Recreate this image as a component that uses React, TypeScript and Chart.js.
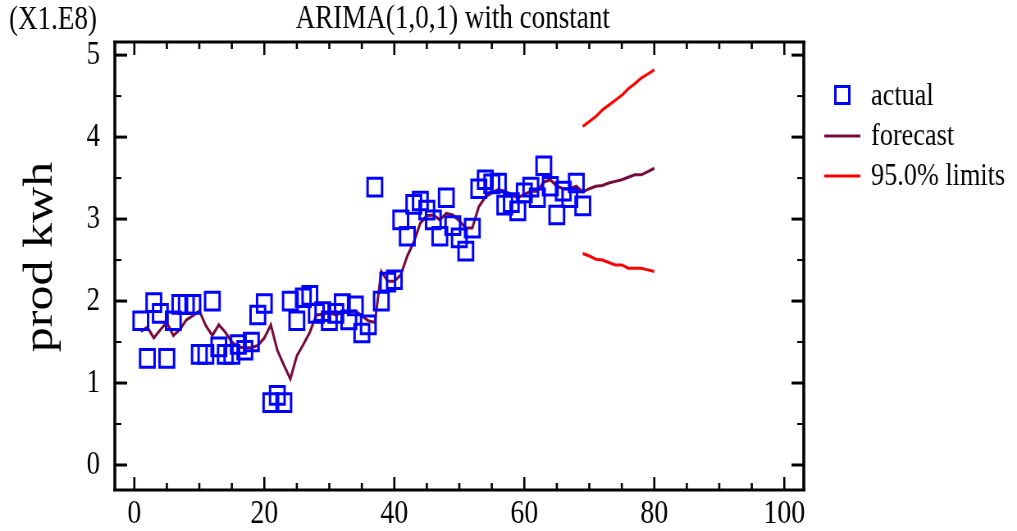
import React, { useEffect, useRef } from "react";
import { Chart, registerables } from "chart.js";

Chart.register(...registerables);

// ---------- data ----------
const actualValues = [
  1.76, 1.30, 1.98, 1.85, 1.30, 1.76, 1.96, 1.96, 1.96, 1.35,
  1.35, 2.00, 1.44, 1.35, 1.35, 1.47, 1.40, 1.50, 1.83, 1.97,
  0.76, 0.85, 0.76, 2.00, 1.76, 2.04, 2.07, 1.85, 1.87, 1.76,
  1.85, 1.97, 1.77, 1.94, 1.61, 1.71, 3.39, 2.00, 2.23, 2.26,
  2.99, 2.79, 3.18, 3.22, 3.11, 2.99, 2.79, 3.26, 2.92, 2.77,
  2.61, 2.89, 3.37, 3.48, 3.43, 3.44, 3.17, 3.20, 3.10, 3.32,
  3.39, 3.26, 3.65, 3.40, 3.05, 3.34, 3.26, 3.44, 3.16,
];
const forecastValues = [
  1.63, 1.68, 1.55, 1.65, 1.74, 1.58, 1.65, 1.77, 1.82, 1.88,
  1.70, 1.58, 1.71, 1.62, 1.50, 1.44, 1.43, 1.43, 1.46, 1.55,
  1.71, 1.40, 1.22, 1.05, 1.33, 1.47, 1.62, 1.83, 1.84, 1.86,
  1.83, 1.86, 1.86, 1.88, 1.82, 1.76, 1.74, 2.36, 2.24, 2.24,
  2.32, 2.55, 2.72, 2.95, 3.04, 3.05, 2.99, 3.07, 3.05, 2.98,
  2.89, 2.89, 3.15, 3.27, 3.32, 3.36, 3.34, 3.30, 3.26, 3.30,
  3.34, 3.34, 3.45, 3.48, 3.40, 3.37, 3.37, 3.40,
  3.33, 3.37, 3.40, 3.41, 3.44, 3.46, 3.48, 3.51, 3.54, 3.54, 3.58, 3.62,
];
const limitsStart = 69;
const upperLimits = [4.13, 4.19, 4.25, 4.33, 4.39, 4.45, 4.51, 4.59, 4.65, 4.72, 4.77, 4.82];
const lowerLimits = [2.58, 2.55, 2.51, 2.50, 2.47, 2.44, 2.44, 2.40, 2.40, 2.40, 2.38, 2.36];

const xTickValues = [0, 20, 40, 60, 80, 100];
const yTickValues = [0, 1, 2, 3, 4, 5];

const titleText = "ARIMA(1,0,1) with constant";
const multiplierText = "(X1.E8)";
const yAxisTitle = "prod kwh";
const legendLabels = ["actual", "forecast", "95.0% limits"];

// ---------- styles ----------
const OUT_W = 1017;
const OUT_H = 531;
const K = 0.82;
const W = Math.round(OUT_W / K);
const H = OUT_H;
const FONT = "'Liberation Serif', 'Times New Roman', serif";
const BLUE = "#0000ff";
const MAROON = "#780a3c";
const RED = "#ff0000";

const toPoints = (vals: number[], start: number) =>
  vals.map((v, i) => ({ x: start + i, y: v }));

const decorPlugin = {
  id: "decor",
  afterDraw(chart: any) {
    const { ctx, chartArea: a, scales } = chart;
    const xs = scales.x;
    const ys = scales.y;
    ctx.save();
    ctx.strokeStyle = "#000";
    const seg = (x1: number, y1: number, x2: number, y2: number) => {
      ctx.beginPath();
      ctx.moveTo(x1, y1);
      ctx.lineTo(x2, y2);
      ctx.stroke();
    };
    // x ticks (inside, top and bottom)
    ctx.lineWidth = 2.6;
    for (let v = 0; v <= 100; v += 5) {
      const px = xs.getPixelForValue(v);
      const len = v % 20 === 0 ? 13 : 7;
      seg(px, a.bottom, px, a.bottom - len);
      seg(px, a.top, px, a.top + len);
    }
    // y ticks (inside, left and right)
    for (let v = 0; v <= 5; v += 0.5) {
      const py = ys.getPixelForValue(v);
      const major = Number.isInteger(v);
      ctx.lineWidth = major ? 3 : 2;
      const len = major ? 15 : 8;
      seg(a.left, py, a.left + len, py);
      seg(a.right, py, a.right - len, py);
    }
    // frame
    ctx.lineWidth = 3;
    seg(a.left - 2, a.top, a.right + 2, a.top);
    seg(a.left - 2, a.bottom, a.right + 2, a.bottom);
    ctx.lineWidth = 3.6;
    seg(a.left, a.top, a.left, a.bottom);
    seg(a.right, a.top, a.right, a.bottom);

    // texts
    ctx.fillStyle = "#000";
    ctx.font = `33px ${FONT}`;
    ctx.textBaseline = "middle";
    ctx.textAlign = "center";
    ctx.fillText(titleText, 552, 19);
    ctx.textAlign = "left";
    ctx.fillText(multiplierText, 11, 20);

    ctx.save();
    ctx.translate(50, 257);
    ctx.rotate(-Math.PI / 2);
    ctx.font = `50px ${FONT}`;
    ctx.textAlign = "center";
    ctx.fillText(yAxisTitle, 0, 0);
    ctx.restore();

    // legend
    const ds = chart.data.datasets;
    const lx = 1062;
    ctx.font = `32px ${FONT}`;
    ctx.textAlign = "left";
    ctx.strokeStyle = ds[0].pointBorderColor;
    ctx.lineWidth = 3;
    ctx.strokeRect(1027 - 8.5, 95 - 8.5, 17, 17);
    ctx.fillText(legendLabels[0], lx, 97);
    ctx.strokeStyle = ds[1].borderColor;
    ctx.lineWidth = 3;
    seg(1005, 136, 1049, 136);
    ctx.fillText(legendLabels[1], lx, 137);
    ctx.strokeStyle = ds[2].borderColor;
    seg(1005, 176, 1049, 176);
    ctx.fillText(legendLabels[2], lx, 177);
    ctx.restore();
  },
};

export default function App() {
  const ref = useRef<HTMLCanvasElement | null>(null);
  useEffect(() => {
    if (!ref.current) return;
    const chart = new Chart(ref.current, {
      type: "line",
      data: {
        datasets: [
          {
            label: legendLabels[0],
            data: toPoints(actualValues, 1),
            showLine: false,
            pointStyle: "rect",
            pointRadius: 12.5,
            pointBorderWidth: 3,
            pointBorderColor: BLUE,
            pointBackgroundColor: "rgba(0,0,0,0)",
            borderColor: BLUE,
            order: 0,
          },
          {
            label: legendLabels[1],
            data: toPoints(forecastValues, 1),
            borderColor: MAROON,
            borderWidth: 3,
            pointRadius: 0,
            tension: 0,
            order: 1,
          },
          {
            label: legendLabels[2],
            data: toPoints(upperLimits, limitsStart),
            borderColor: RED,
            borderWidth: 3,
            pointRadius: 0,
            tension: 0,
          },
          {
            label: legendLabels[2] + " lower",
            data: toPoints(lowerLimits, limitsStart),
            borderColor: RED,
            borderWidth: 3,
            pointRadius: 0,
            tension: 0,
          },
        ],
      },
      options: {
        animation: false,
        responsive: true,
        maintainAspectRatio: false,
        layout: { padding: { top: 42, right: W - 980, left: 0, bottom: 0 } },
        plugins: {
          legend: { display: false },
          title: { display: false },
          tooltip: { enabled: false },
        },
        scales: {
          x: {
            type: "linear",
            min: -3,
            max: 103,
            grid: { display: false, drawTicks: false },
            border: { display: false },
            afterBuildTicks: (s: any) => {
              s.ticks = xTickValues.map((v) => ({ value: v }));
            },
            afterFit: (s: any) => {
              s.height = 41;
            },
            ticks: {
              padding: 4,
              color: "#000",
              maxRotation: 0,
              autoSkip: false,
              font: { family: FONT, size: 34 },
            },
          },
          y: {
            type: "linear",
            min: -0.305,
            max: 5.16,
            grid: { display: false, drawTicks: false },
            border: { display: false },
            afterBuildTicks: (s: any) => {
              s.ticks = yTickValues.map((v) => ({ value: v }));
            },
            afterFit: (s: any) => {
              s.width = 140;
            },
            ticks: {
              padding: 18,
              color: "#000",
              autoSkip: false,
              font: { family: FONT, size: 33 },
            },
          },
        },
      },
      plugins: [decorPlugin],
    } as any);
    return () => chart.destroy();
  }, []);

  return (
    <div
      style={{
        position: "fixed",
        left: 0,
        top: 0,
        width: OUT_W,
        height: OUT_H,
        overflow: "hidden",
        background: "#fff",
      }}
    >
      <div
        style={{
          width: W,
          height: H,
          transform: `scaleX(${OUT_W / W})`,
          transformOrigin: "0 0",
        }}
      >
        <canvas ref={ref} />
      </div>
    </div>
  );
}
